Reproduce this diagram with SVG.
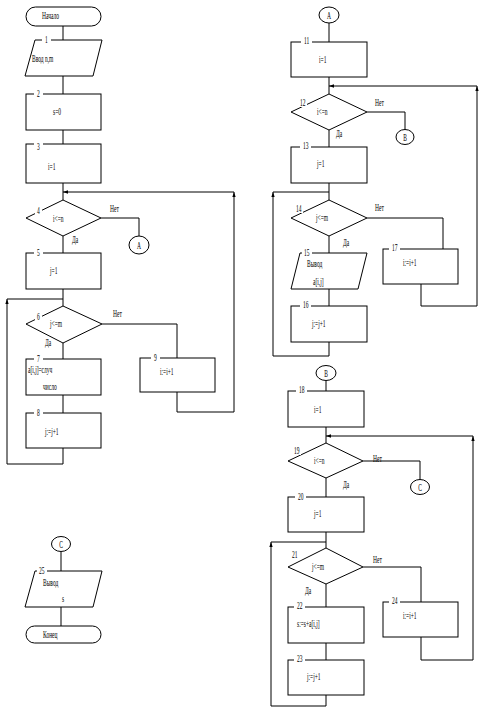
<svg xmlns="http://www.w3.org/2000/svg" width="483" height="722" viewBox="0 0 483 722">
<style>
.s{fill:none;stroke:#000;stroke-width:1}
.b{fill:#fff;stroke:#000;stroke-width:1}
.t{font-family:"Liberation Serif","Times New Roman",serif;font-size:10px;fill:#000}
.m{text-anchor:middle}
.w{fill:#fff;stroke:none}
</style>
<defs>
<marker id="ah" viewBox="0 0 6 4" refX="6" refY="2" markerWidth="5" markerHeight="3.5" markerUnits="userSpaceOnUse" orient="auto">
<path d="M0,0 L6,2 L0,4 z" fill="#000"/>
</marker>
</defs>
<rect width="483" height="722" fill="#fff"/>
<g id="connectors">
<path class="s" d="M63,26 V40 M63,76 V94 M63,130 V144 M63,183 V200 M101,218 H139 V236 M63,236 V253 M63,289 V306 M102,324 H177 V358 M63,343 V359 M63,395 V413"/>
<path class="s" d="M63,448 V464 H7 V299" marker-end="url(#ah)"/>
<path class="s" d="M7,299 H63"/>
<path class="s" d="M177,392 V412 H234 V192" marker-end="url(#ah)"/>
<path class="s" d="M234,192 H63" marker-end="url(#ah)"/>
<path class="s" d="M329,23 V42 M329,77 V94 M367,112 H405 V130 M329,130 V147 M329,183 V200 M367,218 H443 V249 M329,236 V253 M329,289 V306"/>
<path class="s" d="M329,342 V356 H273 V192" marker-end="url(#ah)"/>
<path class="s" d="M273,192 H329"/>
<path class="s" d="M421,284 V306 H477 V86" marker-end="url(#ah)"/>
<path class="s" d="M477,86 H329" marker-end="url(#ah)"/>
<path class="s" d="M326,381 V391 M326,427 V443 M363,461 H420 V480 M326,478 V497 M326,532 V548 M363,567 H421 V602 M326,584 V607 M326,643 V660"/>
<path class="s" d="M326,695 V706 H271 V542" marker-end="url(#ah)"/>
<path class="s" d="M271,542 H326"/>
<path class="s" d="M421,637 V660 H473 V436" marker-end="url(#ah)"/>
<path class="s" d="M473,436 H326" marker-end="url(#ah)"/>
<path class="s" d="M61,552 V571 M61,607 V626"/>
</g>
<g id="start"><rect class="b" x="26" y="7" width="75" height="19" rx="9.5"/><text class="t" transform="translate(42,19) scale(0.55,1)">Начало</text></g>
<g id="n1"><polygon class="b" points="35,40 102,40 93,76 25,76"/><rect class="w" x="42" y="37" width="9" height="6"/><text class="t" transform="translate(45,43) scale(0.55,1)">1</text><text class="t" transform="translate(32,62) scale(0.55,1)">Ввод n,m</text></g>
<g id="n2"><rect class="b" x="26" y="94" width="75" height="36"/><rect class="w" x="34" y="91" width="9" height="6"/><text class="t" transform="translate(37,97) scale(0.55,1)">2</text><text class="t" transform="translate(53,115) scale(0.55,1)">s=0</text></g>
<g id="n3"><rect class="b" x="26" y="144" width="75" height="39"/><rect class="w" x="34" y="141" width="9" height="6"/><text class="t" transform="translate(37,150) scale(0.55,1)">3</text><text class="t" transform="translate(48,170) scale(0.55,1)">i=1</text></g>
<g id="n4"><polygon class="b" points="63,200 101,218 63,236 26,218"/><rect class="w" x="35" y="207" width="7" height="8"/><text class="t" transform="translate(37,214) scale(0.55,1)">4</text><text class="t" transform="translate(53,222) scale(0.55,1)">i&lt;=n</text><text class="t" transform="translate(110,212) scale(0.55,1)">Нет</text><text class="t" transform="translate(72,243) scale(0.55,1)">Да</text></g>
<g id="cA1"><ellipse class="b" cx="139" cy="245" rx="10" ry="9"/><text class="t m" transform="translate(139,249) scale(0.55,1)">А</text></g>
<g id="n5"><rect class="b" x="26" y="253" width="75" height="36"/><rect class="w" x="34" y="250" width="9" height="6"/><text class="t" transform="translate(37,256) scale(0.55,1)">5</text><text class="t" transform="translate(50,274) scale(0.55,1)">j=1</text></g>
<g id="n6"><polygon class="b" points="63,306 102,324 63,343 26,324"/><rect class="w" x="35" y="313" width="7" height="8"/><text class="t" transform="translate(37,320) scale(0.55,1)">6</text><text class="t" transform="translate(50,327) scale(0.55,1)">j&lt;=m</text><text class="t" transform="translate(113,317) scale(0.55,1)">Нет</text><text class="t" transform="translate(45,346) scale(0.55,1)">Да</text></g>
<g id="n7"><rect class="b" x="26" y="359" width="75" height="36"/><rect class="w" x="34" y="356" width="9" height="6"/><text class="t" transform="translate(37,362) scale(0.55,1)">7</text><text class="t" transform="translate(28,373) scale(0.55,1)">a[i,j]=случ</text><text class="t" transform="translate(43,390) scale(0.55,1)">число</text></g>
<g id="n8"><rect class="b" x="26" y="413" width="75" height="35"/><rect class="w" x="34" y="410" width="9" height="6"/><text class="t" transform="translate(37,416) scale(0.55,1)">8</text><text class="t" transform="translate(45,435) scale(0.55,1)">j:=j+1</text></g>
<g id="n9"><rect class="b" x="140" y="358" width="75" height="34"/><rect class="w" x="151" y="355" width="9" height="6"/><text class="t" transform="translate(154,361) scale(0.55,1)">9</text><text class="t" transform="translate(160,375) scale(0.55,1)">i:=i+1</text></g>
<g id="cA2"><ellipse class="b" cx="329" cy="15" rx="10" ry="8"/><text class="t m" transform="translate(329,19) scale(0.55,1)">А</text></g>
<g id="n11"><rect class="b" x="291" y="42" width="76" height="35"/><rect class="w" x="301" y="39" width="11" height="6"/><text class="t" transform="translate(304,44) scale(0.55,1)">11</text><text class="t" transform="translate(319,63) scale(0.55,1)">i=1</text></g>
<g id="n12"><polygon class="b" points="329,94 367,112 329,130 291,112"/><rect class="w" x="298" y="99" width="9" height="8"/><text class="t" transform="translate(300,106) scale(0.55,1)">12</text><text class="t" transform="translate(317,115) scale(0.55,1)">i&lt;=n</text><text class="t" transform="translate(375,106) scale(0.55,1)">Нет</text><text class="t" transform="translate(336,137) scale(0.55,1)">Да</text></g>
<g id="cB1"><ellipse class="b" cx="405" cy="137" rx="9" ry="7.5"/><text class="t m" transform="translate(405,141) scale(0.55,1)">В</text></g>
<g id="n13"><rect class="b" x="291" y="147" width="76" height="36"/><rect class="w" x="300" y="144" width="11" height="6"/><text class="t" transform="translate(303,149) scale(0.55,1)">13</text><text class="t" transform="translate(317,167) scale(0.55,1)">j=1</text></g>
<g id="n14"><polygon class="b" points="329,200 367,218 329,236 291,218"/><rect class="w" x="294" y="205" width="9" height="8"/><text class="t" transform="translate(296,212) scale(0.55,1)">14</text><text class="t" transform="translate(316,221) scale(0.55,1)">j&lt;=m</text><text class="t" transform="translate(375,211) scale(0.55,1)">Нет</text><text class="t" transform="translate(343,246) scale(0.55,1)">Да</text></g>
<g id="n15"><polygon class="b" points="300,253 367,253 358,289 291,289"/><rect class="w" x="302" y="250" width="10" height="6"/><text class="t" transform="translate(304,256) scale(0.55,1)">15</text><text class="t" transform="translate(307,267) scale(0.55,1)">Вывод</text><text class="t" transform="translate(313,285) scale(0.55,1)">a[i,j]</text></g>
<g id="n16"><rect class="b" x="291" y="306" width="76" height="36"/><rect class="w" x="300" y="303" width="11" height="6"/><text class="t" transform="translate(303,308) scale(0.55,1)">16</text><text class="t" transform="translate(312,327) scale(0.55,1)">j:=j+1</text></g>
<g id="n17"><rect class="b" x="383" y="249" width="75" height="35"/><rect class="w" x="389" y="246" width="11" height="6"/><text class="t" transform="translate(392,251) scale(0.55,1)">17</text><text class="t" transform="translate(403,266) scale(0.55,1)">i:=i+1</text></g>
<g id="cB2"><ellipse class="b" cx="326" cy="373" rx="10" ry="7.5"/><text class="t m" transform="translate(326,377) scale(0.55,1)">В</text></g>
<g id="n18"><rect class="b" x="288" y="391" width="76" height="36"/><rect class="w" x="296" y="388" width="11" height="6"/><text class="t" transform="translate(299,393) scale(0.55,1)">18</text><text class="t" transform="translate(314,413) scale(0.55,1)">i=1</text></g>
<g id="n19"><polygon class="b" points="326,443 363,461 326,478 288,461"/><rect class="w" x="292" y="447" width="9" height="8"/><text class="t" transform="translate(294,454) scale(0.55,1)">19</text><text class="t" transform="translate(314,464) scale(0.55,1)">i&lt;=n</text><text class="t" transform="translate(373,462) scale(0.55,1)">Нет</text><text class="t" transform="translate(343,488) scale(0.55,1)">Да</text></g>
<g id="cC1"><ellipse class="b" cx="420" cy="487" rx="9.5" ry="7.5"/><text class="t m" transform="translate(420,491) scale(0.55,1)">С</text></g>
<g id="n20"><rect class="b" x="288" y="497" width="76" height="35"/><rect class="w" x="295" y="494" width="11" height="6"/><text class="t" transform="translate(298,500) scale(0.55,1)">20</text><text class="t" transform="translate(314,517) scale(0.55,1)">j=1</text></g>
<g id="n21"><polygon class="b" points="326,548 363,567 326,584 288,567"/><rect class="w" x="290" y="551" width="9" height="8"/><text class="t" transform="translate(292,558) scale(0.55,1)">21</text><text class="t" transform="translate(312,570) scale(0.55,1)">j&lt;=m</text><text class="t" transform="translate(373,563) scale(0.55,1)">Нет</text><text class="t" transform="translate(305,594) scale(0.55,1)">Да</text></g>
<g id="n22"><rect class="b" x="288" y="607" width="76" height="36"/><rect class="w" x="294" y="604" width="11" height="6"/><text class="t" transform="translate(297,609) scale(0.55,1)">22</text><text class="t" transform="translate(297,627) scale(0.55,1)">s:=s+a[i,j]</text></g>
<g id="n23"><rect class="b" x="288" y="660" width="76" height="35"/><rect class="w" x="294" y="657" width="11" height="6"/><text class="t" transform="translate(297,662) scale(0.55,1)">23</text><text class="t" transform="translate(307,680) scale(0.55,1)">j:=j+1</text></g>
<g id="n24"><rect class="b" x="383" y="602" width="75" height="35"/><rect class="w" x="389" y="599" width="11" height="6"/><text class="t" transform="translate(392,604) scale(0.55,1)">24</text><text class="t" transform="translate(403,619) scale(0.55,1)">i:=i+1</text></g>
<g id="cC2"><ellipse class="b" cx="61" cy="544" rx="9.5" ry="7.5"/><text class="t m" transform="translate(61,548) scale(0.55,1)">С</text></g>
<g id="n25"><polygon class="b" points="35,571 102,571 93,607 25,607"/><rect class="w" x="37" y="568" width="10" height="6"/><text class="t" transform="translate(39,574) scale(0.55,1)">25</text><text class="t" transform="translate(43,586) scale(0.55,1)">Вывод</text><text class="t" transform="translate(62,602) scale(0.55,1)">s</text></g>
<g id="end"><rect class="b" x="26" y="626" width="75" height="17" rx="8.5"/><text class="t" transform="translate(43,638) scale(0.55,1)">Конец</text></g>
</svg>
